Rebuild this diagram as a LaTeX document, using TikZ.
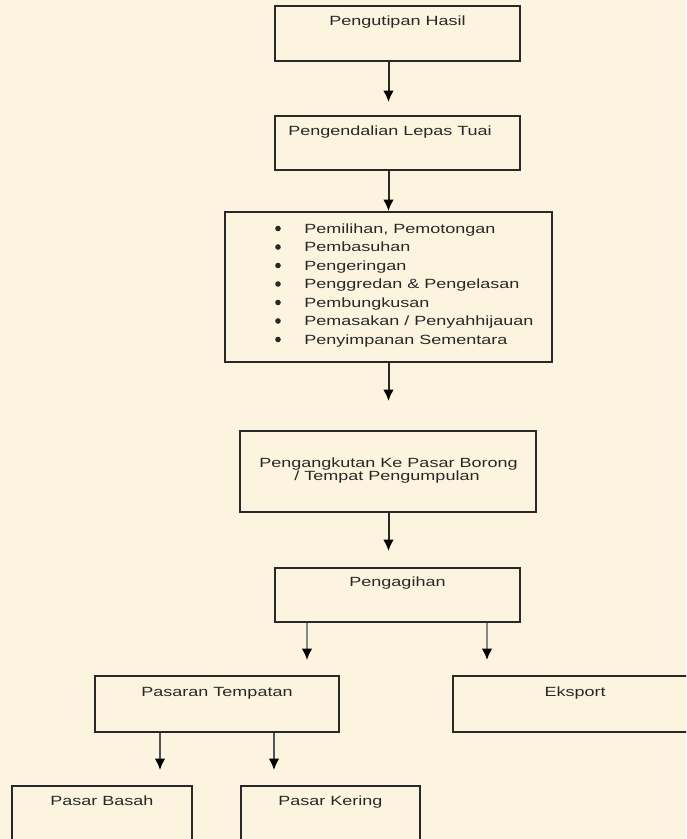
\documentclass[tikz,border=0pt]{standalone}
\usepackage{fontspec}
\setmainfont{Liberation Sans}
\usepackage{graphicx}
\usetikzlibrary{arrows.meta}
\definecolor{latar}{RGB}{253, 244, 223}
\definecolor{garis}{RGB}{40, 40, 40}
\definecolor{tulisan}{RGB}{40, 40, 40}
\definecolor{kelabu}{RGB}{135, 135, 135}
\newcommand{\px}{0.75pt}
\newcommand{\lebar}[1]{\scalebox{1.35}[1]{#1}}

\begin{document}
\begin{tikzpicture}[x=0.75pt, y=-0.75pt,
        kotak/.style={draw=garis, line width=1.5pt, fill=latar, inner sep=0pt},
        tajuk/.style={anchor=base, text=tulisan, inner sep=0pt, font=\fontsize{10}{12}\selectfont},
        panah/.style={draw=garis, line width=1.5pt, -{Latex[length=8.5pt, width=8pt, color=black]}}]
            % Background & frame
            \useasboundingbox (0, 0) rectangle (686, 839);
            \fill[latar] (0, 0) rectangle (686, 839);
            \clip (0, 0) rectangle (686, 839);
            % Boxes
            \node[kotak, minimum width=245*\px, minimum height=55*\px]  (hasil)    at (397.5,  33.5) {};
            \node[kotak, minimum width=245*\px, minimum height=54*\px]  (lepas)    at (397.5, 143.0) {};
            \node[kotak, minimum width=327*\px, minimum height=150*\px] (proses)   at (388.5, 287.0) {};
            \node[kotak, minimum width=296*\px, minimum height=81*\px]  (angkut)   at (388.0, 471.5) {};
            \node[kotak, minimum width=245*\px, minimum height=54*\px]  (agih)     at (397.5, 595.0) {};
            \node[kotak, minimum width=244*\px, minimum height=56*\px]  (tempatan) at (217.0, 704.0) {};
            \node[kotak, minimum width=247*\px, minimum height=56*\px]  (eksport)  at (576.5, 704.0) {};
            \node[kotak, minimum width=180*\px, minimum height=64*\px]  (basah)    at (102.0, 818.0) {};
            \node[kotak, minimum width=179*\px, minimum height=64*\px]  (kering)   at (330.5, 818.0) {};
            % Box titles
            \node[tajuk] (thasil)    at ([yshift=-15.0pt]hasil.north)                {\lebar{Pengutipan Hasil}};
            \node[tajuk] (tlepas)    at ([xshift=-5.6pt, yshift=-15.5pt]lepas.north) {\lebar{Pengendalian Lepas Tuai}};
            \node[tajuk] (tangkut1)  at (388.5, 467)                                 {\lebar{Pengangkutan Ke Pasar Borong}};
            \node[tajuk] (tangkut2)  at (387.0, 480)                                 {\lebar{/ Tempat Pengumpulan}};
            \node[tajuk] (tagih)     at ([yshift=-14.3pt]agih.north)                 {\lebar{Pengagihan}};
            \node[tajuk] (ttempatan) at ([yshift=-15.8pt]tempatan.north)             {\lebar{Pasaran Tempatan}};
            \node[tajuk] (teksport)  at ([xshift=-1pt, yshift=-15.8pt]eksport.north) {\lebar{Eksport}};
            \node[tajuk] (tbasah)    at ([yshift=-15.5pt]basah.north)                {\lebar{Pasar Basah}};
            \node[tajuk] (tkering)   at ([yshift=-15.5pt]kering.north)               {\lebar{Pasar Kering}};
            % Bullet list
            \foreach \isi [count=\i from 0] in {{Pemilihan, Pemotongan}, Pembasuhan, Pengeringan,
                    Penggredan \& Pengelasan, Pembungkusan, Pemasakan / Penyahhijauan, Penyimpanan Sementara}
            {
                \fill[tulisan] (278, {228.5+18.5*\i}) circle (2.1pt);
                \node[tajuk, anchor=base west] (butir\i) at (304, {233.3+18.5*\i}) {\lebar{\isi}};
            }
            % Arrow columns
            \coordinate (tengah) at (388.5,   0);
            \coordinate (kiri)   at (307.0,   0);
            \coordinate (kanan)  at (487.0,   0);
            \coordinate (basahx) at (160.0,   0);
            \coordinate (keringx) at (274.0,  0);
            % Main flow
            \draw[panah, shorten >=9.75pt]  (hasil.south -| tengah)  -- (lepas.north -| tengah);
            \draw[panah]                    (lepas.south -| tengah)  -- (proses.north -| tengah);
            \draw[panah, shorten >=21.75pt] (proses.south -| tengah) -- (angkut.north -| tengah);
            \draw[panah, shorten >=12pt]    (angkut.south -| tengah) -- (agih.north -| tengah);
            % Distribution
            \draw[panah, draw=kelabu, shorten >=11.25pt] (agih.south -| kiri)  -- (tempatan.north -| kiri);
            \draw[panah, draw=kelabu, shorten >=11.25pt] (agih.south -| kanan) -- (eksport.north -| kanan);
            \draw[panah, draw=garis!80, shorten >=11.25pt] (tempatan.south -| basahx)  -- (basah.north -| basahx);
            \draw[panah, draw=garis!80, shorten >=11.25pt] (tempatan.south -| keringx) -- (kering.north -| keringx);
        \end{tikzpicture}
\end{document}
